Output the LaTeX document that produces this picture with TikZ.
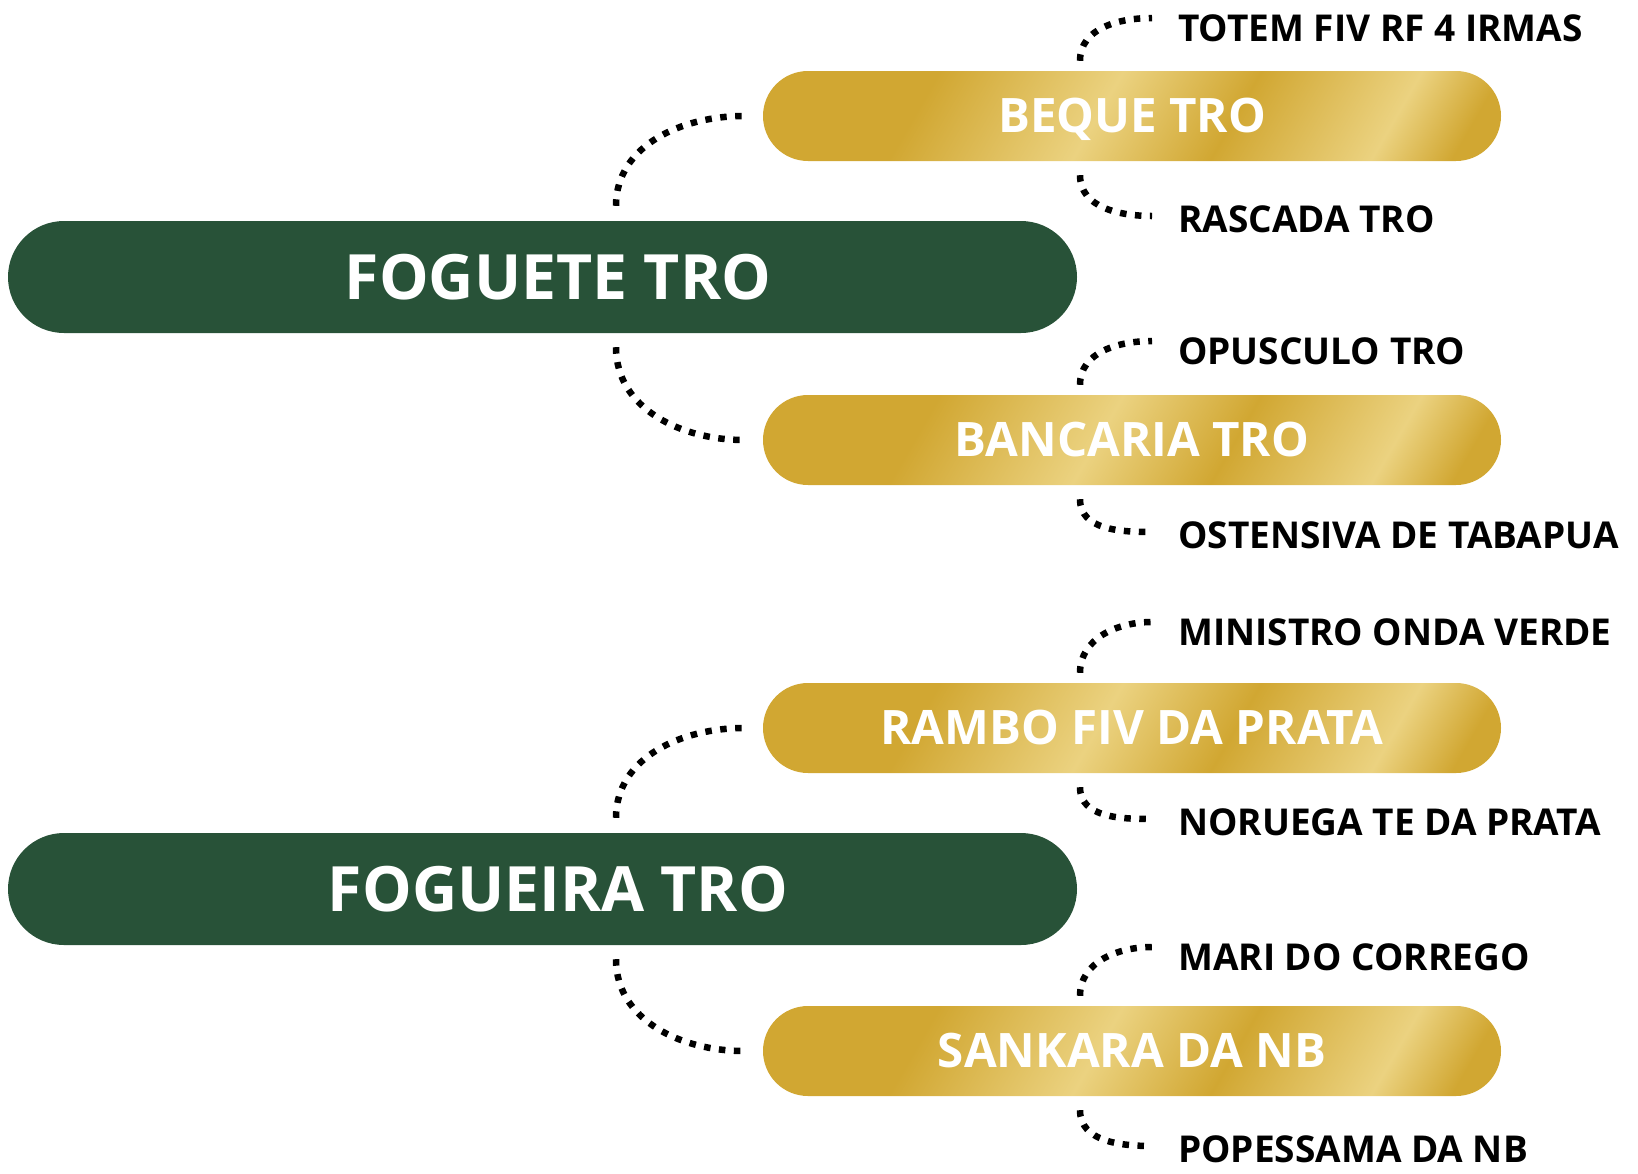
\documentclass[tikz,border=0pt]{standalone}
\usepackage{fontspec}
\setmainfont{Open Sans}
\usetikzlibrary{positioning}
\definecolor{darkgreen}{RGB}{40,82,56}
\definecolor{golddark}{RGB}{209,167,50}
\definecolor{goldlight}{RGB}{235,210,128}
\pgfdeclarehorizontalshading{goldshade}{100bp}{color(0bp)=(golddark); color(31bp)=(golddark); color(47bp)=(goldlight); color(59bp)=(golddark); color(73bp)=(goldlight); color(80bp)=(golddark); color(100bp)=(golddark)}
\begin{document}
\begin{tikzpicture}
[x=1pt,y=-1pt,
 rootdecorate/.style={shape=rectangle,rounded corners=56pt,fill=darkgreen,minimum width=1069pt,minimum height=112pt},%
 roottext/.style={text=white,inner sep=0pt,text height=45pt,text depth=0pt,font=\fontsize{62.5}{62.5}\selectfont\bfseries},%
 branchdecorate/.style={shape=rectangle,rounded corners=45pt,shade,shading=goldshade,shading angle=-30,text=white,minimum width=738pt,minimum height=90pt,text height=33pt,text depth=0pt,font=\fontsize{47.5}{47.5}\selectfont\bfseries},%
 leafdecorate/.style={anchor=west,inner sep=0pt,text height=27pt,text depth=0pt,font=\fontsize{37}{37}\selectfont\bfseries},%
 linedecorate/.style={-,line width=6.5pt,dash pattern=on 6.5pt off 8.5pt}]
\useasboundingbox (0,0) rectangle (1638,1173);
% main nodes
\node (r1) at (542.5,277) [rootdecorate] {};
\node (r1t) at ([xshift=15.5pt]r1.center) [roottext] {FOGUETE TRO};
\node (r2) at (542.5,889) [rootdecorate] {};
\node (r2t) at ([xshift=15.5pt]r2.center) [roottext] {FOGUEIRA TRO};
% branch nodes
\node (b1) at (1132,116) [branchdecorate] {BEQUE TRO};
\node (b2) at (1132,440) [branchdecorate] {BANCARIA TRO};
\node (b3) at (1132,728) [branchdecorate] {RAMBO FIV DA PRATA};
\node (b4) at (1132,1051) [branchdecorate] {SANKARA DA NB};
% leaf nodes
\node (l1) at (1178,28) [leafdecorate] {TOTEM FIV RF 4 IRMAS};
\node (l2) at (1178,219) [leafdecorate] {RASCADA TRO};
\node (l3) at (1178,351) [leafdecorate] {OPUSCULO TRO};
\node (l4) at (1178,535) [leafdecorate] {OSTENSIVA DE TABAPUA};
\node (l5) at (1178,632) [leafdecorate] {MINISTRO ONDA VERDE};
\node (l6) at (1178,822) [leafdecorate] {NORUEGA TE DA PRATA};
\node (l7) at (1178,957) [leafdecorate] {MARI DO CORREGO};
\node (l8) at (1178,1149) [leafdecorate] {POPESSAMA DA NB};
% edges from main nodes
\path
([xshift=73.5pt,yshift=15pt]r1.north) edge[linedecorate,out=90,in=180] ([xshift=-19pt]b1.west)
([xshift=73.5pt,yshift=-14pt]r1.south) edge[linedecorate,out=-90,in=180] ([xshift=-19pt]b2.west)
([xshift=73.5pt,yshift=15pt]r2.north) edge[linedecorate,out=90,in=180] ([xshift=-19pt]b3.west)
([xshift=73.5pt,yshift=-14pt]r2.south) edge[linedecorate,out=-90,in=180] ([xshift=-19pt]b4.west);
% edges from branch nodes
\path
([xshift=-52pt,yshift=10pt]b1.north) edge[linedecorate,out=90,in=180] ([xshift=-26pt,yshift=10pt]l1.west)
([xshift=-52pt,yshift=-14pt]b1.south) edge[linedecorate,out=-90,in=180] ([xshift=-26pt,yshift=3pt]l2.west)
([xshift=-52pt,yshift=10pt]b2.north) edge[linedecorate,out=90,in=180] ([xshift=-26pt,yshift=10pt]l3.west)
([xshift=-52pt,yshift=-14pt]b2.south) edge[linedecorate,out=-90,in=180] ([xshift=-26pt,yshift=3pt]l4.west)
([xshift=-52pt,yshift=10pt]b3.north) edge[linedecorate,out=90,in=180] ([xshift=-26pt,yshift=10pt]l5.west)
([xshift=-52pt,yshift=-14pt]b3.south) edge[linedecorate,out=-90,in=180] ([xshift=-26pt,yshift=3pt]l6.west)
([xshift=-52pt,yshift=10pt]b4.north) edge[linedecorate,out=90,in=180] ([xshift=-26pt,yshift=10pt]l7.west)
([xshift=-52pt,yshift=-14pt]b4.south) edge[linedecorate,out=-90,in=180] ([xshift=-26pt,yshift=3pt]l8.west);
\end{tikzpicture}
\end{document}
